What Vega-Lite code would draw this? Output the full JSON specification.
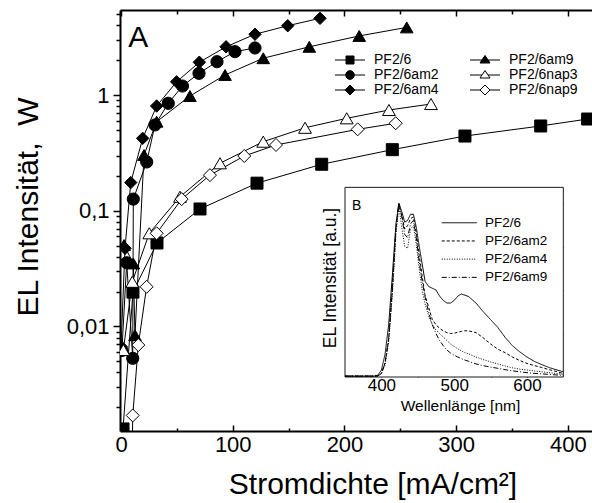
{
  "width": 472,
  "height": 421,
  "autosize": {"type": "none"},
  "padding": {"left": 120, "top": 10, "right": 0, "bottom": 72},
  "background": "white",
  "config": {
    "font": "Liberation Sans",
    "view": {"stroke": null},
    "axis": {"labelFont": "Liberation Sans", "titleFont": "Liberation Sans", "titleFontWeight": "normal", "labelColor": "black", "titleColor": "black", "tickColor": "black", "domainColor": "black", "grid": false, "labelOverlap": false, "labelFlush": false, "labelBound": false},
    "legend": {"labelFont": "Liberation Sans", "labelColor": "black"}
  },
  "datasets": {
    "el": [
      {"s": "PF2/6", "j": 1.8, "v": 0.0013}, {"s": "PF2/6", "j": 10.7, "v": 0.0198}, {"s": "PF2/6", "j": 32.2, "v": 0.0526}, {"s": "PF2/6", "j": 70.7, "v": 0.1035}, {"s": "PF2/6", "j": 121.7, "v": 0.173}, {"s": "PF2/6", "j": 179.6, "v": 0.252}, {"s": "PF2/6", "j": 242.8, "v": 0.337}, {"s": "PF2/6", "j": 307.8, "v": 0.442}, {"s": "PF2/6", "j": 375.6, "v": 0.54}, {"s": "PF2/6", "j": 417.6, "v": 0.62},
      {"s": "PF2/6am2", "j": 0.8, "v": 0.0062}, {"s": "PF2/6am2", "j": 5.1, "v": 0.0355}, {"s": "PF2/6am2", "j": 10.5, "v": 0.0053}, {"s": "PF2/6am2", "j": 11, "v": 0.126}, {"s": "PF2/6am2", "j": 23, "v": 0.264}, {"s": "PF2/6am2", "j": 30.4, "v": 0.551}, {"s": "PF2/6am2", "j": 42.3, "v": 0.848}, {"s": "PF2/6am2", "j": 55, "v": 1.196}, {"s": "PF2/6am2", "j": 69.8, "v": 1.54}, {"s": "PF2/6am2", "j": 85.9, "v": 1.94}, {"s": "PF2/6am2", "j": 102, "v": 2.37}, {"s": "PF2/6am2", "j": 119.9, "v": 2.55},
      {"s": "PF2/6am4", "j": 0, "v": 0.0067}, {"s": "PF2/6am4", "j": 3.6, "v": 0.0473}, {"s": "PF2/6am4", "j": 8.7, "v": 0.175}, {"s": "PF2/6am4", "j": 19.4, "v": 0.422}, {"s": "PF2/6am4", "j": 31.9, "v": 0.803}, {"s": "PF2/6am4", "j": 49.8, "v": 1.3}, {"s": "PF2/6am4", "j": 70.1, "v": 1.92}, {"s": "PF2/6am4", "j": 94, "v": 2.61}, {"s": "PF2/6am4", "j": 119.9, "v": 3.35}, {"s": "PF2/6am4", "j": 149.2, "v": 3.97}, {"s": "PF2/6am4", "j": 178.1, "v": 4.6},
      {"s": "PF2/6am9", "j": 2.7, "v": 0.0505}, {"s": "PF2/6am9", "j": 11, "v": 0.035}, {"s": "PF2/6am9", "j": 12.5, "v": 0.0084}, {"s": "PF2/6am9", "j": 20.6, "v": 0.303}, {"s": "PF2/6am9", "j": 31.9, "v": 0.588}, {"s": "PF2/6am9", "j": 61.7, "v": 0.98}, {"s": "PF2/6am9", "j": 93.1, "v": 1.49}, {"s": "PF2/6am9", "j": 127.3, "v": 2.08}, {"s": "PF2/6am9", "j": 168.5, "v": 2.61}, {"s": "PF2/6am9", "j": 213.2, "v": 3.24}, {"s": "PF2/6am9", "j": 255.7, "v": 3.84},
      {"s": "PF2/6nap3", "j": 2.1, "v": 0.00625}, {"s": "PF2/6nap3", "j": 10.1, "v": 0.0243}, {"s": "PF2/6nap3", "j": 25.3, "v": 0.0638}, {"s": "PF2/6nap3", "j": 52.8, "v": 0.132}, {"s": "PF2/6nap3", "j": 88.6, "v": 0.257}, {"s": "PF2/6nap3", "j": 127.3, "v": 0.395}, {"s": "PF2/6nap3", "j": 164.7, "v": 0.521}, {"s": "PF2/6nap3", "j": 202, "v": 0.629}, {"s": "PF2/6nap3", "j": 239.8, "v": 0.742}, {"s": "PF2/6nap3", "j": 277.4, "v": 0.836},
      {"s": "PF2/6nap9", "j": 9.5, "v": 0.0004}, {"s": "PF2/6nap9", "j": 10.5, "v": 0.0017}, {"s": "PF2/6nap9", "j": 15.5, "v": 0.0069}, {"s": "PF2/6nap9", "j": 22.9, "v": 0.022}, {"s": "PF2/6nap9", "j": 31.9, "v": 0.0638}, {"s": "PF2/6nap9", "j": 54.3, "v": 0.126}, {"s": "PF2/6nap9", "j": 79.6, "v": 0.203}, {"s": "PF2/6nap9", "j": 110.3, "v": 0.297}, {"s": "PF2/6nap9", "j": 138.7, "v": 0.37}, {"s": "PF2/6nap9", "j": 211.8, "v": 0.505}, {"s": "PF2/6nap9", "j": 245.8, "v": 0.57}
    ],
    "spec": [
      {"s": "PF2/6", "nm": 350, "I": 0.005}, {"s": "PF2/6", "nm": 390, "I": 0.005}, {"s": "PF2/6", "nm": 395, "I": 0.01}, {"s": "PF2/6", "nm": 400, "I": 0.04}, {"s": "PF2/6", "nm": 405, "I": 0.13}, {"s": "PF2/6", "nm": 410, "I": 0.3}, {"s": "PF2/6", "nm": 415, "I": 0.58}, {"s": "PF2/6", "nm": 420, "I": 0.88}, {"s": "PF2/6", "nm": 424, "I": 1.0}, {"s": "PF2/6", "nm": 428, "I": 0.95}, {"s": "PF2/6", "nm": 432, "I": 0.89}, {"s": "PF2/6", "nm": 436, "I": 0.9}, {"s": "PF2/6", "nm": 440, "I": 0.935}, {"s": "PF2/6", "nm": 444, "I": 0.935}, {"s": "PF2/6", "nm": 448, "I": 0.86}, {"s": "PF2/6", "nm": 452, "I": 0.75}, {"s": "PF2/6", "nm": 456, "I": 0.65}, {"s": "PF2/6", "nm": 460, "I": 0.55}, {"s": "PF2/6", "nm": 465, "I": 0.52}, {"s": "PF2/6", "nm": 470, "I": 0.51}, {"s": "PF2/6", "nm": 475, "I": 0.5}, {"s": "PF2/6", "nm": 480, "I": 0.465}, {"s": "PF2/6", "nm": 485, "I": 0.44}, {"s": "PF2/6", "nm": 490, "I": 0.425}, {"s": "PF2/6", "nm": 495, "I": 0.425}, {"s": "PF2/6", "nm": 500, "I": 0.44}, {"s": "PF2/6", "nm": 505, "I": 0.465}, {"s": "PF2/6", "nm": 510, "I": 0.477}, {"s": "PF2/6", "nm": 515, "I": 0.47}, {"s": "PF2/6", "nm": 520, "I": 0.462}, {"s": "PF2/6", "nm": 530, "I": 0.425}, {"s": "PF2/6", "nm": 540, "I": 0.375}, {"s": "PF2/6", "nm": 550, "I": 0.33}, {"s": "PF2/6", "nm": 560, "I": 0.285}, {"s": "PF2/6", "nm": 570, "I": 0.228}, {"s": "PF2/6", "nm": 580, "I": 0.18}, {"s": "PF2/6", "nm": 590, "I": 0.145}, {"s": "PF2/6", "nm": 600, "I": 0.115}, {"s": "PF2/6", "nm": 610, "I": 0.09}, {"s": "PF2/6", "nm": 620, "I": 0.072}, {"s": "PF2/6", "nm": 630, "I": 0.055}, {"s": "PF2/6", "nm": 640, "I": 0.042}, {"s": "PF2/6", "nm": 650, "I": 0.03},
      {"s": "PF2/6am2", "nm": 350, "I": 0.005}, {"s": "PF2/6am2", "nm": 390, "I": 0.005}, {"s": "PF2/6am2", "nm": 395, "I": 0.006}, {"s": "PF2/6am2", "nm": 400, "I": 0.02}, {"s": "PF2/6am2", "nm": 405, "I": 0.08}, {"s": "PF2/6am2", "nm": 410, "I": 0.22}, {"s": "PF2/6am2", "nm": 415, "I": 0.5}, {"s": "PF2/6am2", "nm": 420, "I": 0.85}, {"s": "PF2/6am2", "nm": 424, "I": 0.99}, {"s": "PF2/6am2", "nm": 428, "I": 0.93}, {"s": "PF2/6am2", "nm": 432, "I": 0.85}, {"s": "PF2/6am2", "nm": 436, "I": 0.87}, {"s": "PF2/6am2", "nm": 440, "I": 0.91}, {"s": "PF2/6am2", "nm": 444, "I": 0.92}, {"s": "PF2/6am2", "nm": 448, "I": 0.83}, {"s": "PF2/6am2", "nm": 452, "I": 0.7}, {"s": "PF2/6am2", "nm": 456, "I": 0.58}, {"s": "PF2/6am2", "nm": 460, "I": 0.47}, {"s": "PF2/6am2", "nm": 465, "I": 0.4}, {"s": "PF2/6am2", "nm": 470, "I": 0.33}, {"s": "PF2/6am2", "nm": 475, "I": 0.3}, {"s": "PF2/6am2", "nm": 480, "I": 0.28}, {"s": "PF2/6am2", "nm": 485, "I": 0.265}, {"s": "PF2/6am2", "nm": 490, "I": 0.255}, {"s": "PF2/6am2", "nm": 495, "I": 0.25}, {"s": "PF2/6am2", "nm": 500, "I": 0.252}, {"s": "PF2/6am2", "nm": 505, "I": 0.257}, {"s": "PF2/6am2", "nm": 510, "I": 0.262}, {"s": "PF2/6am2", "nm": 515, "I": 0.266}, {"s": "PF2/6am2", "nm": 520, "I": 0.265}, {"s": "PF2/6am2", "nm": 530, "I": 0.255}, {"s": "PF2/6am2", "nm": 540, "I": 0.225}, {"s": "PF2/6am2", "nm": 550, "I": 0.19}, {"s": "PF2/6am2", "nm": 560, "I": 0.16}, {"s": "PF2/6am2", "nm": 570, "I": 0.14}, {"s": "PF2/6am2", "nm": 580, "I": 0.115}, {"s": "PF2/6am2", "nm": 590, "I": 0.095}, {"s": "PF2/6am2", "nm": 600, "I": 0.078}, {"s": "PF2/6am2", "nm": 610, "I": 0.066}, {"s": "PF2/6am2", "nm": 620, "I": 0.055}, {"s": "PF2/6am2", "nm": 630, "I": 0.043}, {"s": "PF2/6am2", "nm": 640, "I": 0.032}, {"s": "PF2/6am2", "nm": 650, "I": 0.02},
      {"s": "PF2/6am4", "nm": 350, "I": 0.005}, {"s": "PF2/6am4", "nm": 390, "I": 0.005}, {"s": "PF2/6am4", "nm": 395, "I": 0.006}, {"s": "PF2/6am4", "nm": 400, "I": 0.02}, {"s": "PF2/6am4", "nm": 405, "I": 0.07}, {"s": "PF2/6am4", "nm": 410, "I": 0.2}, {"s": "PF2/6am4", "nm": 415, "I": 0.47}, {"s": "PF2/6am4", "nm": 420, "I": 0.82}, {"s": "PF2/6am4", "nm": 424, "I": 0.98}, {"s": "PF2/6am4", "nm": 428, "I": 0.86}, {"s": "PF2/6am4", "nm": 432, "I": 0.75}, {"s": "PF2/6am4", "nm": 436, "I": 0.74}, {"s": "PF2/6am4", "nm": 440, "I": 0.85}, {"s": "PF2/6am4", "nm": 444, "I": 0.87}, {"s": "PF2/6am4", "nm": 448, "I": 0.76}, {"s": "PF2/6am4", "nm": 452, "I": 0.62}, {"s": "PF2/6am4", "nm": 456, "I": 0.5}, {"s": "PF2/6am4", "nm": 460, "I": 0.42}, {"s": "PF2/6am4", "nm": 465, "I": 0.35}, {"s": "PF2/6am4", "nm": 470, "I": 0.3}, {"s": "PF2/6am4", "nm": 475, "I": 0.27}, {"s": "PF2/6am4", "nm": 480, "I": 0.25}, {"s": "PF2/6am4", "nm": 485, "I": 0.23}, {"s": "PF2/6am4", "nm": 490, "I": 0.21}, {"s": "PF2/6am4", "nm": 495, "I": 0.19}, {"s": "PF2/6am4", "nm": 500, "I": 0.175}, {"s": "PF2/6am4", "nm": 505, "I": 0.162}, {"s": "PF2/6am4", "nm": 510, "I": 0.15}, {"s": "PF2/6am4", "nm": 515, "I": 0.14}, {"s": "PF2/6am4", "nm": 520, "I": 0.133}, {"s": "PF2/6am4", "nm": 530, "I": 0.115}, {"s": "PF2/6am4", "nm": 540, "I": 0.1}, {"s": "PF2/6am4", "nm": 550, "I": 0.087}, {"s": "PF2/6am4", "nm": 560, "I": 0.075}, {"s": "PF2/6am4", "nm": 570, "I": 0.063}, {"s": "PF2/6am4", "nm": 580, "I": 0.053}, {"s": "PF2/6am4", "nm": 590, "I": 0.045}, {"s": "PF2/6am4", "nm": 600, "I": 0.04}, {"s": "PF2/6am4", "nm": 610, "I": 0.035}, {"s": "PF2/6am4", "nm": 620, "I": 0.03}, {"s": "PF2/6am4", "nm": 630, "I": 0.025}, {"s": "PF2/6am4", "nm": 640, "I": 0.02}, {"s": "PF2/6am4", "nm": 650, "I": 0.015},
      {"s": "PF2/6am9", "nm": 350, "I": 0.005}, {"s": "PF2/6am9", "nm": 390, "I": 0.005}, {"s": "PF2/6am9", "nm": 395, "I": 0.006}, {"s": "PF2/6am9", "nm": 400, "I": 0.02}, {"s": "PF2/6am9", "nm": 405, "I": 0.08}, {"s": "PF2/6am9", "nm": 410, "I": 0.22}, {"s": "PF2/6am9", "nm": 415, "I": 0.5}, {"s": "PF2/6am9", "nm": 420, "I": 0.86}, {"s": "PF2/6am9", "nm": 424, "I": 1.0}, {"s": "PF2/6am9", "nm": 428, "I": 0.92}, {"s": "PF2/6am9", "nm": 432, "I": 0.82}, {"s": "PF2/6am9", "nm": 436, "I": 0.8}, {"s": "PF2/6am9", "nm": 440, "I": 0.88}, {"s": "PF2/6am9", "nm": 444, "I": 0.9}, {"s": "PF2/6am9", "nm": 448, "I": 0.8}, {"s": "PF2/6am9", "nm": 452, "I": 0.66}, {"s": "PF2/6am9", "nm": 456, "I": 0.55}, {"s": "PF2/6am9", "nm": 460, "I": 0.46}, {"s": "PF2/6am9", "nm": 465, "I": 0.37}, {"s": "PF2/6am9", "nm": 470, "I": 0.3}, {"s": "PF2/6am9", "nm": 475, "I": 0.25}, {"s": "PF2/6am9", "nm": 480, "I": 0.21}, {"s": "PF2/6am9", "nm": 485, "I": 0.18}, {"s": "PF2/6am9", "nm": 490, "I": 0.155}, {"s": "PF2/6am9", "nm": 495, "I": 0.138}, {"s": "PF2/6am9", "nm": 500, "I": 0.125}, {"s": "PF2/6am9", "nm": 505, "I": 0.115}, {"s": "PF2/6am9", "nm": 510, "I": 0.105}, {"s": "PF2/6am9", "nm": 515, "I": 0.097}, {"s": "PF2/6am9", "nm": 520, "I": 0.09}, {"s": "PF2/6am9", "nm": 530, "I": 0.075}, {"s": "PF2/6am9", "nm": 540, "I": 0.065}, {"s": "PF2/6am9", "nm": 550, "I": 0.057}, {"s": "PF2/6am9", "nm": 560, "I": 0.05}, {"s": "PF2/6am9", "nm": 570, "I": 0.042}, {"s": "PF2/6am9", "nm": 580, "I": 0.036}, {"s": "PF2/6am9", "nm": 590, "I": 0.03}, {"s": "PF2/6am9", "nm": 600, "I": 0.025}, {"s": "PF2/6am9", "nm": 610, "I": 0.021}, {"s": "PF2/6am9", "nm": 620, "I": 0.018}, {"s": "PF2/6am9", "nm": 630, "I": 0.015}, {"s": "PF2/6am9", "nm": 640, "I": 0.012}, {"s": "PF2/6am9", "nm": 650, "I": 0.01}
    ]
  },
  "layer": [
    {
      "data": {"name": "el"},
      "layer": [
        {
          "mark": {"type": "line", "color": "black", "strokeWidth": 1, "clip": true},
          "encoding": {
            "x": {"field": "j", "type": "quantitative", "scale": {"domain": [-0.9, 421.5], "nice": false, "zero": false},
              "axis": {"orient": "bottom", "values": [0, 50, 100, 150, 200, 250, 300, 350, 400], "labelExpr": "datum.value % 100 === 0 ? datum.label : ''", "labelFontSize": 22, "labelPadding": 9, "tickSize": {"condition": {"test": "datum.value % 100 === 0", "value": -6}, "value": -3}, "tickWidth": 1.5, "domain": true, "domainWidth": 2, "title": "Stromdichte [mA/cm²]", "titleFontSize": 30, "titleX": 252.5, "titleY": 62, "titleBaseline": "alphabetic", "titleAlign": "center"}},
            "y": {"field": "v", "type": "quantitative", "scale": {"type": "log", "domain": [0.0012474, 5.429], "nice": false},
              "axis": {"orient": "left", "values": [0.002, 0.003, 0.004, 0.005, 0.006, 0.007, 0.008, 0.009, 0.01, 0.02, 0.03, 0.04, 0.05, 0.06, 0.07, 0.08, 0.09, 0.1, 0.2, 0.3, 0.4, 0.5, 0.6, 0.7, 0.8, 0.9, 1, 2, 3, 4, 5], "labelExpr": "datum.value === 1 ? '1' : datum.value === 0.1 ? '0,1' : datum.value === 0.01 ? '0,01' : ''", "labelFontSize": 22, "labelPadding": 4, "tickSize": {"condition": {"test": "datum.value === 1 || datum.value === 0.1 || datum.value === 0.01", "value": 7}, "value": 4}, "tickWidth": 1.5, "domain": true, "domainWidth": 2, "title": "EL Intensität,\u00a0\u00a0W", "titleFontSize": 30, "titleAngle": -90, "titleX": -83, "titleY": 196.5, "titleBaseline": "alphabetic", "titleAlign": "center"}},
            "detail": {"field": "s", "type": "nominal"}
          }
        },
        {
          "mark": {"type": "point", "filled": true, "stroke": "black", "strokeWidth": 1, "opacity": 1, "clip": true},
          "encoding": {
            "x": {"field": "j", "type": "quantitative"},
            "y": {"field": "v", "type": "quantitative"},
            "shape": {"field": "s", "type": "nominal", "scale": {"domain": ["PF2/6", "PF2/6am2", "PF2/6am4", "PF2/6am9", "PF2/6nap3", "PF2/6nap9"], "range": ["square", "circle", "diamond", "triangle-up", "triangle-up", "diamond"]}, "legend": null},
            "fill": {"field": "s", "type": "nominal", "scale": {"domain": ["PF2/6", "PF2/6am2", "PF2/6am4", "PF2/6am9", "PF2/6nap3", "PF2/6nap9"], "range": ["black", "black", "black", "black", "white", "white"]}, "legend": null},
            "size": {"field": "s", "type": "nominal", "scale": {"domain": ["PF2/6", "PF2/6am2", "PF2/6am4", "PF2/6am9", "PF2/6nap3", "PF2/6nap9"], "range": [144, 169, 225, 196, 196, 225]}, "legend": null}
          }
        },
        {
          "data": {"values": []},
          "mark": {"type": "point", "filled": false, "stroke": "black", "strokeWidth": 1, "opacity": 1},
          "encoding": {
            "shape": {"field": "s", "type": "nominal", "scale": {"domain": ["PF2/6", "PF2/6am2", "PF2/6am4", "PF2/6am9", "PF2/6nap3", "PF2/6nap9"], "range": [
              "M-3,0H3M-0.8,-0.8H0.8V0.8H-0.8ZM-0.8,-0.7H0.8M-0.8,-0.6H0.8M-0.8,-0.5H0.8M-0.8,-0.4H0.8M-0.8,-0.3H0.8M-0.8,-0.2H0.8M-0.8,-0.1H0.8M-0.8,0.1H0.8M-0.8,0.2H0.8M-0.8,0.3H0.8M-0.8,0.4H0.8M-0.8,0.5H0.8M-0.8,0.6H0.8M-0.8,0.7H0.8",
              "M-3,0H3M-0.85,0A0.85,0.85,0,1,1,0.85,0A0.85,0.85,0,1,1,-0.85,0ZM-0.84,-0.1H0.84M-0.84,0.1H0.84M-0.83,-0.2H0.83M-0.83,0.2H0.83M-0.8,-0.3H0.8M-0.8,0.3H0.8M-0.75,-0.4H0.75M-0.75,0.4H0.75M-0.69,-0.5H0.69M-0.69,0.5H0.69M-0.6,-0.6H0.6M-0.6,0.6H0.6M-0.48,-0.7H0.48M-0.48,0.7H0.48M-0.29,-0.8H0.29M-0.29,0.8H0.29",
              "M-3,0H3M-1,0L0,-1L1,0L0,1ZM-0.9,-0.1H0.9M-0.9,0.1H0.9M-0.8,-0.2H0.8M-0.8,0.2H0.8M-0.7,-0.3H0.7M-0.7,0.3H0.7M-0.6,-0.4H0.6M-0.6,0.4H0.6M-0.5,-0.5H0.5M-0.5,0.5H0.5M-0.4,-0.6H0.4M-0.4,0.6H0.4M-0.3,-0.7H0.3M-0.3,0.7H0.3M-0.2,-0.8H0.2M-0.2,0.8H0.2M-0.1,-0.9H0.1M-0.1,0.9H0.1",
              "M-3,0H3M0,-0.9L1,0.6L-1,0.6ZM-0.07,-0.8H0.07M-0.13,-0.7H0.13M-0.2,-0.6H0.2M-0.27,-0.5H0.27M-0.33,-0.4H0.33M-0.4,-0.3H0.4M-0.47,-0.2H0.47M-0.53,-0.1H0.53M-0.67,0.1H0.67M-0.73,0.2H0.73M-0.8,0.3H0.8M-0.87,0.4H0.87M-0.93,0.5H0.93",
              "M-3,0H-0.6M0.6,0H3M0,-0.9L1,0.6L-1,0.6Z",
              "M-3,0H-1M1,0H3M-1,0L0,-1L1,0L0,1Z"]},
              "legend": {"title": null, "orient": "none", "legendX": 223, "legendY": 43, "columns": 2, "symbolSize": 100, "symbolStrokeColor": "black", "symbolStrokeWidth": 1, "symbolOpacity": 1, "labelFontSize": 14, "labelOffset": 17, "columnPadding": 29, "rowPadding": 1, "padding": 0}}
          }
        },
        {
          "data": {"values": [{}]},
          "mark": {"type": "text", "text": "A", "fontSize": 30, "align": "left", "baseline": "alphabetic", "color": "black"},
          "encoding": {"x": {"datum": 6.5}, "y": {"datum": 2.615}}
        }
      ],
      "resolve": {"scale": {"shape": "independent", "fill": "independent", "size": "independent"}}
    },
    {
      "data": {"values": [{}]},
      "mark": {"type": "point", "opacity": 0},
      "encoding": {
        "x": {"datum": 0, "type": "quantitative", "scale": {"domain": [-0.9, 421.5], "nice": false, "zero": false},
          "axis": {"orient": "top", "values": [0, 50, 100, 150, 200, 250, 300, 350, 400], "labels": false, "tickSize": {"condition": {"test": "datum.value % 100 === 0", "value": -6}, "value": -4}, "tickWidth": 1.5, "domain": true, "domainWidth": 2, "title": null}}
      }
    },
    {
      "data": {"name": "spec"},
      "layer": [
        {
          "data": {"values": [{}]},
          "mark": {"type": "rect", "fill": "white", "stroke": "#1a1a1a", "strokeWidth": 1},
          "encoding": {
            "x": {"datum": 350, "type": "quantitative", "scale": {"domain": [40.81, 689.4], "nice": false, "zero": false},
              "axis": {"orient": "bottom", "offset": -54, "values": [400, 450, 500, 550, 600], "labelExpr": "datum.value % 100 === 0 ? datum.label : ''", "labelFontSize": 17, "labelPadding": 4, "tickSize": {"condition": {"test": "datum.value % 100 === 0", "value": -4}, "value": -2.5}, "tickWidth": 1, "domain": false, "title": "Wellenlänge [nm]", "titleFontSize": 15.5, "titleX": 340, "titleY": 33, "titleBaseline": "alphabetic", "titleAlign": "center"}},
            "x2": {"datum": 650},
            "y": {"datum": 0, "type": "quantitative", "scale": {"domain": [-0.3103, 2.1092], "nice": false, "zero": false},
              "axis": {"orient": "left", "offset": -225, "values": [0.25, 0.5, 0.75, 1.0], "labels": false, "tickSize": -4, "tickWidth": 1, "domain": false, "title": "EL Intensität [a.u.]", "titleFontSize": 17.5, "titleAngle": -90, "titleX": -10, "titleY": 267.5, "titleBaseline": "alphabetic", "titleAlign": "center"}},
            "y2": {"datum": 1.09}
          }
        },
        {
          "mark": {"type": "line", "color": "black", "strokeWidth": 1},
          "encoding": {
            "x": {"field": "nm", "type": "quantitative"},
            "y": {"field": "I", "type": "quantitative"},
            "strokeDash": {"field": "s", "type": "nominal", "scale": {"domain": ["PF2/6", "PF2/6am2", "PF2/6am4", "PF2/6am9"], "range": [[1, 0], [3, 2], [1, 1.5], [5, 2, 1, 2]]},
              "legend": {"title": null, "orient": "none", "legendX": 332.5, "legendY": 206, "symbolType": "M-3.5,0H3.5", "symbolSize": 100, "symbolStrokeColor": "black", "symbolStrokeWidth": 1, "labelFontSize": 13.5, "labelOffset": 19, "rowPadding": 3.2, "padding": 0}}
          }
        },
        {
          "data": {"values": [{}]},
          "mark": {"type": "text", "text": "B", "fontSize": 14, "align": "left", "baseline": "alphabetic", "color": "black"},
          "encoding": {"x": {"datum": 359.5}, "y": {"datum": 0.96}}
        }
      ]
    },
    {
      "data": {"values": [{}]},
      "mark": {"type": "point", "opacity": 0},
      "encoding": {
        "x": {"datum": 400, "type": "quantitative", "scale": {"domain": [40.81, 689.4], "nice": false, "zero": false},
          "axis": {"orient": "top", "offset": -177.3, "values": [400, 450, 500, 550, 600], "labels": false, "tickSize": -4, "tickWidth": 1, "domain": false, "title": null}},
        "y": {"datum": 0.5, "type": "quantitative", "scale": {"domain": [-0.3103, 2.1092], "nice": false, "zero": false},
          "axis": {"orient": "right", "offset": -28.7, "values": [0.25, 0.5, 0.75, 1.0], "labels": false, "tickSize": -4, "tickWidth": 1, "domain": false, "title": null}}
      }
    }
  ],
  "resolve": {
    "scale": {"x": "independent", "y": "independent", "shape": "independent", "fill": "independent", "size": "independent", "strokeDash": "independent"},
    "axis": {"x": "independent", "y": "independent"}
  }
}
